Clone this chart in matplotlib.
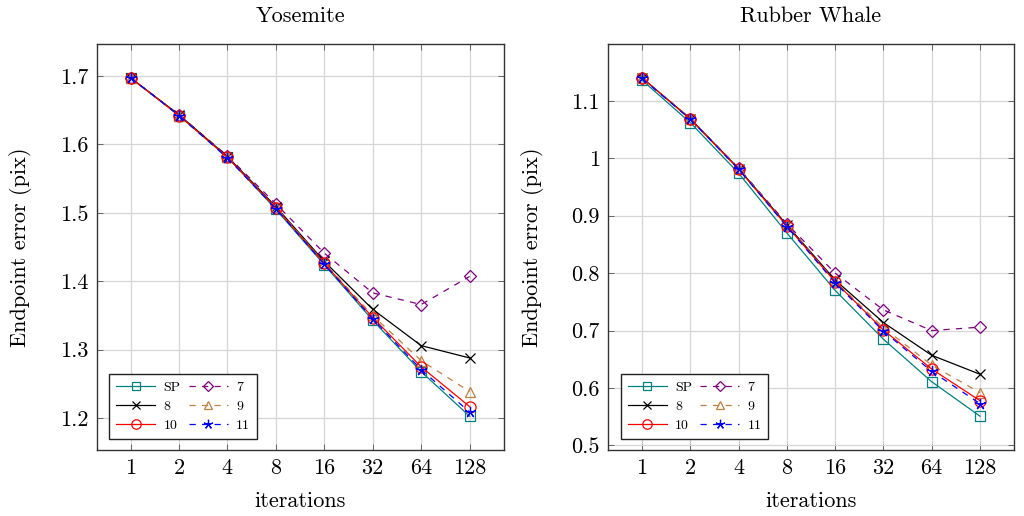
import matplotlib
matplotlib.use("Agg")
import matplotlib.pyplot as plt
import numpy as np

iterations = ['1', '2', '4', '8', '16', '32', '64', '128']
series_names = ['SP', '7', '8', '9', '10', '11']

yosemite_sp = [1.697, 1.642, 1.581, 1.505, 1.424, 1.343, 1.268, 1.203]
yosemite_7 = [1.697, 1.643, 1.583, 1.513, 1.441, 1.383, 1.366, 1.407]
yosemite_8 = [1.697, 1.643, 1.582, 1.509, 1.429, 1.359, 1.306, 1.288]
yosemite_9 = [1.697, 1.642, 1.581, 1.508, 1.427, 1.350, 1.284, 1.239]
yosemite_10 = [1.697, 1.642, 1.581, 1.507, 1.426, 1.347, 1.275, 1.217]
yosemite_11 = [1.697, 1.642, 1.580, 1.506, 1.425, 1.345, 1.271, 1.209]

rubber_sp = [1.136, 1.062, 0.974, 0.870, 0.770, 0.685, 0.611, 0.551]
rubber_7 = [1.140, 1.069, 0.983, 0.886, 0.800, 0.736, 0.700, 0.706]
rubber_8 = [1.140, 1.069, 0.982, 0.884, 0.788, 0.714, 0.657, 0.624]
rubber_9 = [1.140, 1.069, 0.982, 0.883, 0.786, 0.705, 0.640, 0.592]
rubber_10 = [1.140, 1.068, 0.981, 0.882, 0.785, 0.701, 0.633, 0.578]
rubber_11 = [1.139, 1.068, 0.981, 0.881, 0.783, 0.699, 0.629, 0.573]

yosemite_yticks = [1.2, 1.3, 1.4, 1.5, 1.6, 1.7]
yosemite_ylabels = ['1.2', '1.3', '1.4', '1.5', '1.6', '1.7']
rubber_yticks = [0.5, 0.6, 0.7, 0.8, 0.9, 1.0, 1.1]
rubber_ylabels = ['0.5', '0.6', '0.7', '0.8', '0.9', '1', '1.1']

plt.rcParams['font.family'] = ['cmr10', 'DejaVu Serif']
plt.rcParams['axes.unicode_minus'] = False

styles = {
    'SP': dict(color=(0.0, 0.5, 0.5), ls='-', marker='s'),
    '7': dict(color=(0.5, 0.0, 0.5), ls=(0, (5, 5)), marker='D'),
    '8': dict(color='black', ls='-', marker='x'),
    '9': dict(color=(0.75, 0.5, 0.25), ls=(0, (5, 5)), marker='^'),
    '10': dict(color='red', ls='-', marker='o'),
    '11': dict(color='blue', ls=(0, (5, 5)), marker=(5, 2, 0)),
}
msizes = {'SP': 7, '7': 6, '8': 7, '9': 7, '10': 8, '11': 8}

fig = plt.figure(figsize=(10.24, 5.16), dpi=100)
ax1 = fig.add_axes([0.0944, 0.1279, 0.3973, 0.7868])
ax2 = fig.add_axes([0.594, 0.1279, 0.396, 0.7868])

panels = [
    (ax1, 'Yosemite', [yosemite_sp, yosemite_7, yosemite_8, yosemite_9, yosemite_10, yosemite_11],
     yosemite_yticks, yosemite_ylabels),
    (ax2, 'Rubber Whale', [rubber_sp, rubber_7, rubber_8, rubber_9, rubber_10, rubber_11],
     rubber_yticks, rubber_ylabels),
]

x = np.arange(len(iterations))
for ax, title, data, yt, yl in panels:
    handles = {}
    for name, vals in zip(series_names, data):
        st = styles[name]
        mfc = st['color'] if name in ('8', '11') else 'none'
        h, = ax.plot(x, vals, color=st['color'], linestyle=st['ls'], lw=0.9,
                     marker=st['marker'], markersize=msizes[name],
                     markerfacecolor=mfc, markeredgecolor=st['color'],
                     markeredgewidth=0.9, label=name, zorder=3)
        handles[name] = h
    ax.margins(x=0.1, y=0.1)
    ax.set_xticks(x)
    ax.set_xticklabels(iterations)
    ax.set_yticks(yt)
    ax.set_yticklabels(yl)
    ax.grid(True, color='#d6d6d6', lw=0.9)
    ax.set_axisbelow(True)
    ax.tick_params(direction='in', length=4, width=0.7, color='#666666',
                   labelsize=16, top=True, right=True, pad=6)
    for sp in ax.spines.values():
        sp.set_color('#333333')
        sp.set_linewidth(1.0)
    ax.set_title(title, fontsize=16, pad=16)
    ax.set_xlabel('iterations', fontsize=16, labelpad=10)
    ax.set_ylabel('Endpoint error (pix)', fontsize=16, labelpad=20)
    order = ['SP', '8', '10', '7', '9', '11']
    leg = ax.legend([handles[k] for k in order], order, ncol=2, loc='lower left',
                    bbox_to_anchor=(0.031, 0.027), borderaxespad=0, fontsize=10,
                    fancybox=False, framealpha=1, edgecolor='#222222',
                    handlelength=2.8, columnspacing=0.6, handletextpad=0.6,
                    labelspacing=0.45, borderpad=0.5, markerscale=0.85)
    leg.get_frame().set_linewidth(1.0)

fig.savefig('out.png', dpi=100)
